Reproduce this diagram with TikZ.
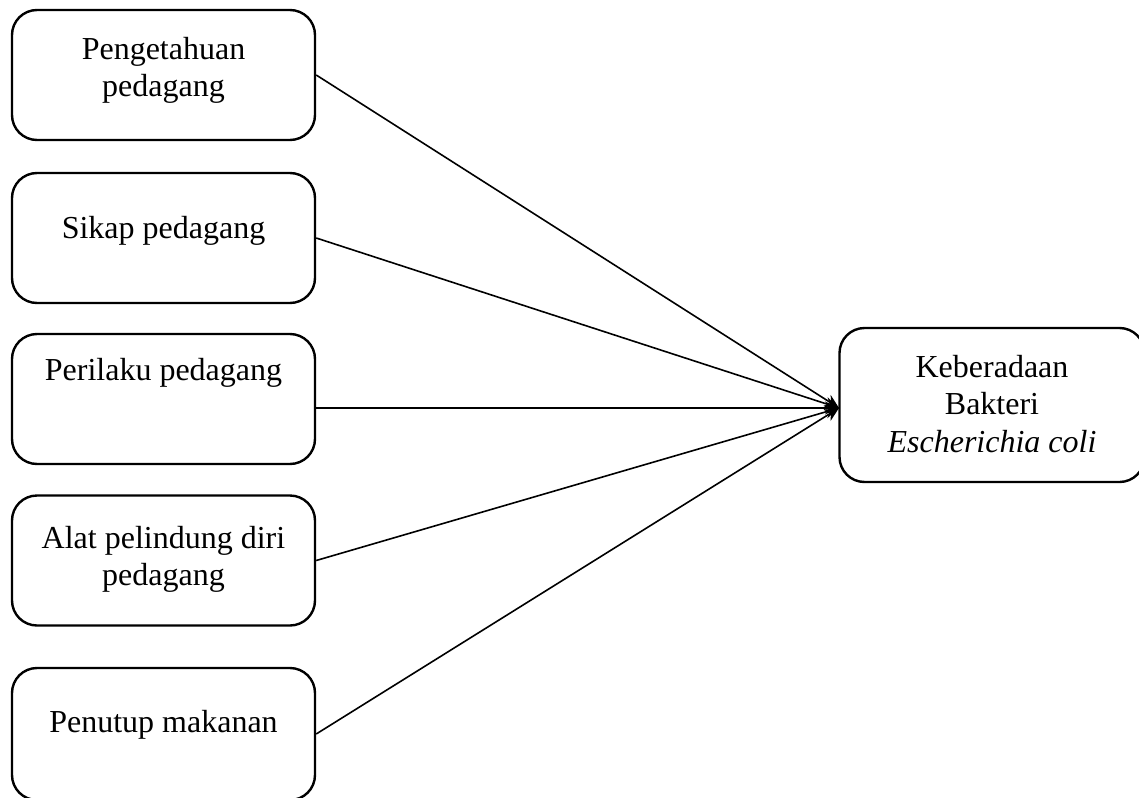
\documentclass[tikz,border=0pt]{standalone}
\usepackage{fontspec}
\setmainfont{Liberation Serif}
\usetikzlibrary{arrows.meta}
\begin{document}
\begin{tikzpicture}[x=0.5pt,y=-0.5pt,
  box/.style={draw, line width=1.2pt, rounded corners=12.5pt, minimum width=151.5pt, minimum height=65pt, inner sep=0pt},
  lbl/.style={font=\fontsize{16}{18.5}\selectfont, align=center, anchor=base, inner sep=0pt},
  conn/.style={line width=0.8pt, -{Stealth[length=7pt,width=6.5pt]}}]
\useasboundingbox (0,0) rectangle (1139,797);
\clip (0,0) rectangle (1139,797);
\fill[white] (0,0) rectangle (1139,797);
% boxes
\node[box] (b1) at (163.5,75) {};
\node[box] (b2) at (163.5,238) {};
\node[box] (b3) at (163.5,399) {};
\node[box] (b4) at (163.5,560.5) {};
\node[box, minimum height=66pt] (b5) at (163.5,734) {};
\node[box, minimum width=152.5pt, minimum height=77pt] (k) at (992,405) {};
% labels (base anchor = baseline of the last line)
\node[lbl] (t1) at (163.5,97) {Pengetahuan\\pedagang};
\node[lbl] (t2) at (163.5,238) {Sikap pedagang};
\node[lbl] (t3) at (163.5,380) {Perilaku pedagang};
\node[lbl] (t4) at (163.5,585) {Alat pelindung diri\\pedagang};
\node[lbl] (t5) at (163.5,732) {Penutup makanan};
\node[lbl, font=\fontsize{16}{18.75}\selectfont] (tk) at (992,452) {Keberadaan\\Bakteri\\\textit{Escherichia coli}};
% connectors
\coordinate (tip) at (839,408);
\draw[conn] (b1.east) -- (tip);
\draw[conn] (b2.east) -- (tip);
\draw[conn] (b3.east |- tip) -- (tip);
\draw[conn] (b4.east) -- (tip);
\draw[conn] (b5.east) -- (tip);
\end{tikzpicture}
\end{document}
